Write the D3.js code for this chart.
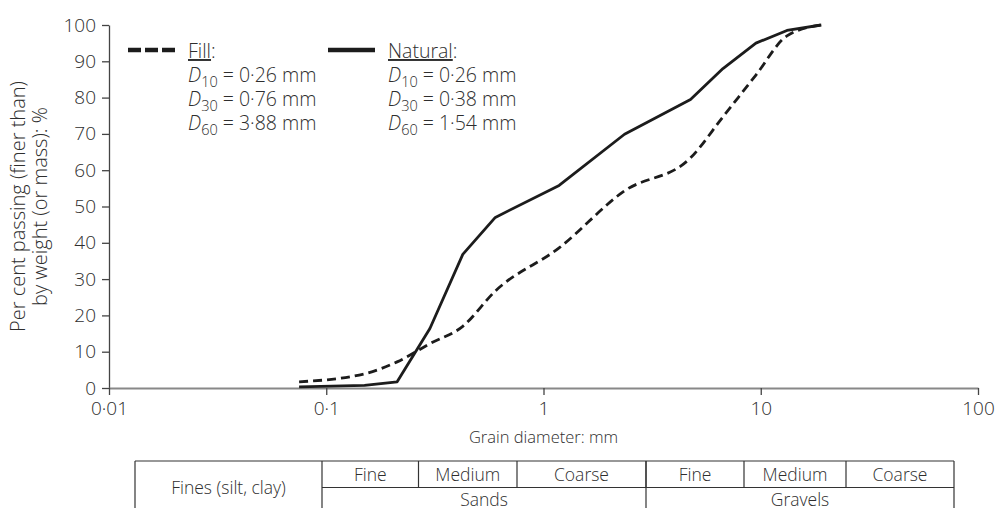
<!DOCTYPE html>
<html>
<head>
<meta charset="utf-8">
<script src="https://cdn.jsdelivr.net/npm/d3@7/dist/d3.min.js"></script>
<style>
  html, body { margin: 0; padding: 0; background: #fff; }
  svg text { font-family: "Open Sans", "Noto Sans", sans-serif; font-weight: 350; fill: #2e2e2e; }
</style>
</head>
<body>
<svg id="chart" width="995" height="508"></svg>
<script>
// Particle-size distribution: sieve sizes (mm) and percentage passing
const sieveSizes = [0.075, 0.15, 0.212, 0.3, 0.425, 0.6, 1.18, 2.36, 4.75, 6.7, 9.5, 13.2, 19];
const fillPassing = [1.7, 3.9, 7.2, 12.2, 17.0, 26.7, 38.6, 54.3, 63.4, 74.7, 86.2, 97.0, 100];
const naturalPassing = [0.3, 0.7, 1.7, 16.4, 36.8, 47.0, 55.8, 69.9, 79.5, 88.0, 95.0, 98.5, 100];

const xTickValues = [0.01, 0.1, 1, 10, 100];
const xTickLabels = ["0·01", "0·1", "1", "10", "100"];
const yTickValues = [0, 10, 20, 30, 40, 50, 60, 70, 80, 90, 100];

const fillStats = [["10", "0·26"], ["30", "0·76"], ["60", "3·88"]];
const naturalStats = [["10", "0·26"], ["30", "0·38"], ["60", "1·54"]];

const soilSubclasses = ["Fine", "Medium", "Coarse", "Fine", "Medium", "Coarse"];
const soilClasses = ["Sands", "Gravels"];
const finesLabel = "Fines (silt, clay)";

const svg = d3.select("#chart");
const ink = "#1c1c1c";

const x = d3.scaleLog().domain([0.01, 100]).range([109, 978]);
const y = d3.scaleLinear().domain([0, 100]).range([388, 25]);

// Axes
const yAxis = svg.append("g")
  .attr("transform", `translate(${x.range()[0]},0)`)
  .call(d3.axisLeft(y).tickValues(yTickValues).tickSize(7).tickSizeOuter(0).tickPadding(6));
yAxis.select(".domain").attr("stroke", "#444").attr("stroke-width", 1.3);
yAxis.selectAll(".tick line").attr("stroke", "#444").attr("stroke-width", 1.3);
yAxis.selectAll(".tick text").attr("font-size", 19).attr("font-family", null).attr("fill", null);

const xAxis = svg.append("g")
  .attr("transform", `translate(0,${y(0)})`)
  .call(d3.axisBottom(x).tickValues(xTickValues).tickSize(7).tickSizeOuter(0).tickPadding(7)
    .tickFormat((d, i) => xTickLabels[i]));
xAxis.select(".domain").attr("stroke", "#888").attr("stroke-width", 1.8);
xAxis.selectAll(".tick line").attr("stroke", "#444").attr("stroke-width", 1.3);
xAxis.selectAll(".tick text").attr("font-size", 19).attr("font-family", null).attr("fill", null);

// Axis titles
svg.append("text")
  .attr("x", x(Math.sqrt(0.01 * 100))).attr("y", 443)
  .attr("text-anchor", "middle").attr("font-size", 16.5)
  .text("Grain diameter: mm");

const yTitle = svg.append("text")
  .attr("transform", `translate(25,${(y(0) + y(100)) / 2}) rotate(-90)`)
  .attr("text-anchor", "middle").attr("font-size", 20);
yTitle.append("tspan").attr("x", 0).attr("dy", 0).text("Per cent passing (finer than)");
yTitle.append("tspan").attr("x", 0).attr("dy", 22).text("by weight (or mass): %");

// Curves
const fillData = sieveSizes.map((d, i) => [d, fillPassing[i]]);
const naturalData = sieveSizes.map((d, i) => [d, naturalPassing[i]]);

svg.append("path")
  .datum(fillData)
  .attr("fill", "none").attr("stroke", ink).attr("stroke-width", 2.8)
  .attr("stroke-dasharray", "9,5")
  .attr("d", d3.line().x(d => x(d[0])).y(d => y(d[1])).curve(d3.curveMonotoneX));

svg.append("path")
  .datum(naturalData)
  .attr("fill", "none").attr("stroke", ink).attr("stroke-width", 2.8)
  .attr("stroke-linejoin", "round")
  .attr("d", d3.line().x(d => x(d[0])).y(d => y(d[1])));

// Legend
function legendBlock(x0, title, stats, dashed) {
  const g = svg.append("g").attr("transform", `translate(${x0},0)`);
  g.append("line")
    .attr("x1", 0).attr("x2", 47).attr("y1", 50).attr("y2", 50)
    .attr("stroke", ink).attr("stroke-width", 4.5)
    .attr("stroke-dasharray", dashed ? "13,4" : null);
  const t = g.append("text").attr("x", 60).attr("y", 58).attr("font-size", 19.5);
  t.append("tspan").attr("text-decoration", "underline").text(title);
  t.append("tspan").text(":");
  stats.forEach((s, i) => {
    const row = g.append("text").attr("x", 60).attr("y", 82 + i * 24).attr("font-size", 19.5);
    row.append("tspan").attr("font-style", "italic").text("D");
    row.append("tspan").attr("font-size", 14.5).attr("dy", 5).text(s[0]);
    row.append("tspan").attr("dy", -5).text(` = ${s[1]} mm`);
  });
}
legendBlock(128, "Fill", fillStats, true);
legendBlock(328, "Natural", naturalStats, false);

// Soil classification table beneath the axis
const tbl = { left: 135, right: 954, top: 461, mid: 487.5, bottom: 514,
  finesEdge: 322, classEdge: 646,
  subEdges: [322, 418.5, 517, 646, 744, 846, 954] };
const tg = svg.append("g").attr("stroke", "#333").attr("stroke-width", 1.2);
tg.append("line").attr("x1", tbl.left).attr("x2", tbl.right).attr("y1", tbl.top).attr("y2", tbl.top);
tg.append("line").attr("x1", tbl.finesEdge).attr("x2", tbl.right).attr("y1", tbl.mid).attr("y2", tbl.mid);
tg.append("line").attr("x1", tbl.left).attr("x2", tbl.right).attr("y1", tbl.bottom).attr("y2", tbl.bottom);
[tbl.left, tbl.finesEdge, tbl.classEdge, tbl.right].forEach(v =>
  tg.append("line").attr("x1", v).attr("x2", v).attr("y1", tbl.top).attr("y2", tbl.bottom));
tbl.subEdges.slice(1, -1).forEach(v =>
  tg.append("line").attr("x1", v).attr("x2", v).attr("y1", tbl.top).attr("y2", tbl.mid));

soilSubclasses.forEach((s, i) => {
  svg.append("text")
    .attr("x", (tbl.subEdges[i] + tbl.subEdges[i + 1]) / 2).attr("y", tbl.top + 20)
    .attr("text-anchor", "middle").attr("font-size", 17.5).text(s);
});
soilClasses.forEach((s, i) => {
  const a = i === 0 ? tbl.finesEdge : tbl.classEdge;
  const b = i === 0 ? tbl.classEdge : tbl.right;
  svg.append("text")
    .attr("x", (a + b) / 2).attr("y", tbl.mid + 18.5)
    .attr("text-anchor", "middle").attr("font-size", 17.5).text(s);
});
svg.append("text")
  .attr("x", (tbl.left + tbl.finesEdge) / 2).attr("y", (tbl.top + tbl.bottom) / 2 + 6)
  .attr("text-anchor", "middle").attr("font-size", 17.5).text(finesLabel);
</script>
</body>
</html>
